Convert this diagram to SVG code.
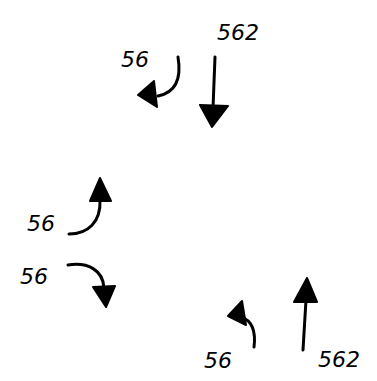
<svg xmlns="http://www.w3.org/2000/svg" width="377" height="381" viewBox="0 0 377 381">
<style>
.lbl{font-family:"DejaVu Sans",sans-serif;font-style:italic;font-weight:300;font-size:22px;fill:#000}
.ln{fill:none;stroke:#000;stroke-width:3;stroke-linecap:round}
.hd{fill:#000;stroke:#000;stroke-width:2;stroke-linejoin:round}
</style>
<rect width="377" height="381" fill="#fff"/>
<g id="connectors">
<g id="a1"><path class="ln" d="M178,57 C181,75 178,92 158,96"/><polygon class="hd" points="138,95 154,81 157,107"/></g>
<g id="a2"><path class="ln" d="M215,57 L213,108"/><polygon class="hd" points="200,105 228,106 212,127"/></g>
<g id="a3"><path class="ln" d="M69,234 C88,234 101,222 100,200"/><polygon class="hd" points="100,178 90,201 111,201"/></g>
<g id="a4"><path class="ln" d="M68,265 C88,262 103,270 104,288"/><polygon class="hd" points="93,287 115,286 106,307"/></g>
<g id="a5"><path class="ln" d="M254,347 C256,332 252,320 242,318"/><polygon class="hd" points="228,316 242,301 246,325"/></g>
<g id="a6"><path class="ln" d="M306,300 L303,350"/><polygon class="hd" points="307,278 294,302 317,302"/></g>
</g>
<g id="labels">
<text class="lbl" x="121" y="67" font-size="19">56</text>
<text class="lbl" x="217" y="40" font-size="23">562</text>
<text class="lbl" x="27" y="231" font-size="24">56</text>
<text class="lbl" x="20" y="284" font-size="24">56</text>
<text class="lbl" x="204" y="368" font-size="24">56</text>
<text class="lbl" x="318" y="367" font-size="26">562</text>
</g>
</svg>
